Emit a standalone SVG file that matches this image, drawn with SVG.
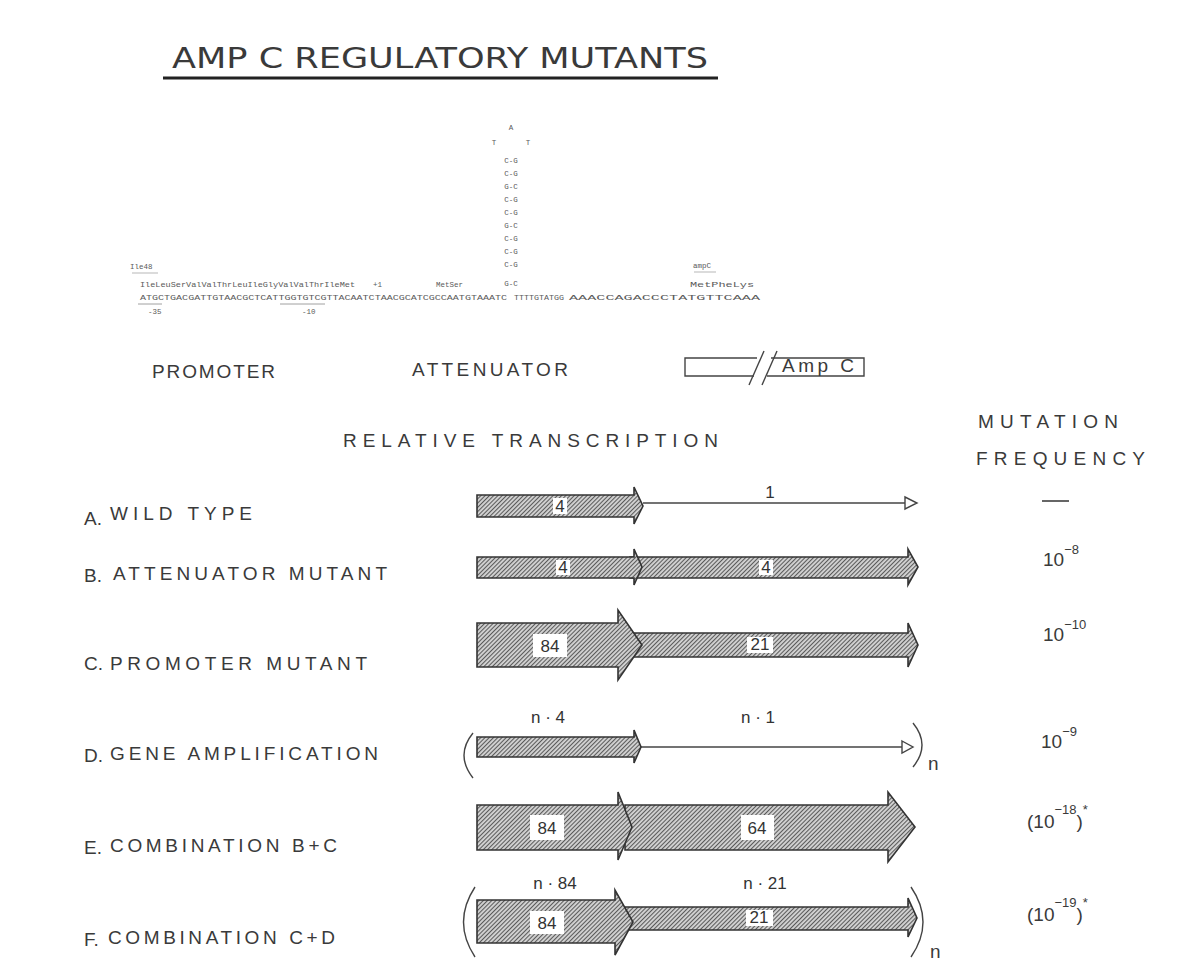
<svg xmlns="http://www.w3.org/2000/svg" width="1186" height="968" viewBox="0 0 1186 968">
<defs>
<pattern id="hatch" width="3" height="3" patternUnits="userSpaceOnUse" patternTransform="rotate(45)">
<rect width="3" height="3" fill="#d2d2d2"/>
<line x1="0.5" y1="0" x2="0.5" y2="3" stroke="#5a5a5a" stroke-width="1.1"/>
</pattern>
<style>
.t{font-family:"Liberation Sans",Arial,sans-serif;fill:#3a3a3a;font-size:19px}
.s{font-family:"Liberation Mono",monospace;fill:#5a5a5a;font-size:7.5px}
.ar{fill:url(#hatch);stroke:#333;stroke-width:1.6;stroke-linejoin:miter}
.ln{fill:none;stroke:#444;stroke-width:1.4}
.box{fill:#fff;stroke:none}
.n{font-family:"Liberation Sans",Arial,sans-serif;fill:#333;font-size:17px;text-anchor:middle}
.sup{font-size:13px}
</style>
</defs>
<rect width="1186" height="968" fill="#fff"/>

<g id="title">
<text x="172" y="68" font-family="'DejaVu Sans',sans-serif" font-size="29" fill="#3a3a3a" textLength="536" lengthAdjust="spacingAndGlyphs">AMP C REGULATORY MUTANTS</text>
<line x1="163" y1="78" x2="718" y2="78" stroke="#222" stroke-width="3"/>
</g>

<g id="sequence">
<text class="s" x="511" y="130" text-anchor="middle">A</text>
<text class="s" x="494" y="145" text-anchor="middle">T</text>
<text class="s" x="528" y="145" text-anchor="middle">T</text>
<g text-anchor="middle">
<text class="s" x="511" y="163">C-G</text>
<text class="s" x="511" y="176">C-G</text>
<text class="s" x="511" y="189">G-C</text>
<text class="s" x="511" y="202">C-G</text>
<text class="s" x="511" y="215">C-G</text>
<text class="s" x="511" y="228">G-C</text>
<text class="s" x="511" y="241">C-G</text>
<text class="s" x="511" y="254">C-G</text>
<text class="s" x="511" y="267">C-G</text>
<text class="s" x="511" y="286">G-C</text>
</g>
<text class="s" x="130" y="269">Ile48</text>
<line x1="132" y1="273" x2="158" y2="273" stroke="#999" stroke-width="0.7"/>
<text class="s" x="140" y="287" textLength="215" lengthAdjust="spacingAndGlyphs">IleLeuSerValValThrLeuIleGlyValValThrIleMet</text>
<text class="s" x="373" y="287">+1</text>
<text class="s" x="436" y="287">MetSer</text>
<text class="s" x="693" y="268">ampC</text>
<line x1="694" y1="272" x2="716" y2="272" stroke="#999" stroke-width="0.7"/>
<text class="s" x="690" y="287" textLength="64" lengthAdjust="spacingAndGlyphs">MetPheLys</text>
<text class="s" x="140" y="300" textLength="367" lengthAdjust="spacingAndGlyphs">ATGCTGACGATTGTAACGCTCATTGGTGTCGTTACAATCTAACGCATCGCCAATGTAAATC</text>
<text class="s" x="514" y="300" textLength="50" lengthAdjust="spacingAndGlyphs">TTTTGTATGG</text>
<text class="s" x="569" y="300" textLength="191" lengthAdjust="spacingAndGlyphs">AAACCAGACCCTATGTTCAAA</text>
<line x1="138" y1="304" x2="162" y2="304" stroke="#888" stroke-width="0.8"/>
<line x1="280" y1="304" x2="325" y2="304" stroke="#888" stroke-width="0.8"/>
<text class="s" x="148" y="314">-35</text>
<text class="s" x="302" y="314">-10</text>
</g>

<g id="region-labels">
<text class="t" x="152" y="378" font-size="18" textLength="123" lengthAdjust="spacing">PROMOTER</text>
<text class="t" x="412" y="376" font-size="18" textLength="156" lengthAdjust="spacing">ATTENUATOR</text>
</g>

<g id="ampc-box">
<path class="ln" d="M757,358 L685,358 L685,376 L754,376"/>
<path class="ln" d="M771,358 L864,358 L864,376 L767,376"/>
<line class="ln" x1="749" y1="385" x2="764" y2="351"/>
<line class="ln" x1="762" y1="385" x2="777" y2="351"/>
<text class="t" x="782" y="372" font-size="18" textLength="72" lengthAdjust="spacing">Amp C</text>
</g>

<g id="headers">
<text class="t" x="343" y="447" textLength="375" lengthAdjust="spacing">RELATIVE TRANSCRIPTION</text>
<text class="t" x="978" y="428" textLength="140" lengthAdjust="spacing">MUTATION</text>
<text class="t" x="976" y="465" textLength="169" lengthAdjust="spacing">FREQUENCY</text>
</g>

<g id="row-labels">
<text class="t" x="84" y="525" font-size="16">A.</text>
<text class="t" x="110" y="520" textLength="142" lengthAdjust="spacing">WILD TYPE</text>
<text class="t" x="84" y="582" font-size="16">B.</text>
<text class="t" x="113" y="580" textLength="274" lengthAdjust="spacing">ATTENUATOR MUTANT</text>
<text class="t" x="84" y="670" font-size="16">C.</text>
<text class="t" x="110" y="670" textLength="257" lengthAdjust="spacing">PROMOTER MUTANT</text>
<text class="t" x="84" y="762" font-size="16">D.</text>
<text class="t" x="110" y="760" textLength="268" lengthAdjust="spacing">GENE AMPLIFICATION</text>
<text class="t" x="84" y="854" font-size="16">E.</text>
<text class="t" x="110" y="852" textLength="227" lengthAdjust="spacing">COMBINATION B+C</text>
<text class="t" x="84" y="946" font-size="16">F.</text>
<text class="t" x="108" y="944" textLength="227" lengthAdjust="spacing">COMBINATION C+D</text>
</g>

<g id="connectors">
<line class="ln" x1="643" y1="503" x2="906" y2="503"/>
<polygon points="905,497 917,503 905,509" fill="#fff" stroke="#444" stroke-width="1.4"/>
<line class="ln" x1="641" y1="747" x2="904" y2="747"/>
<polygon points="902,741 913,747 902,753" fill="#fff" stroke="#444" stroke-width="1.4"/>
</g>

<g id="row-A">
<polygon class="ar" points="477,495 634,495 634,487 643,506 634,524 634,517 477,517"/>
<rect class="box" x="553" y="498" width="14" height="16"/>
<text class="n" x="560" y="512" font-size="14">4</text>
<text class="n" x="770" y="498" font-size="14">1</text>
</g>

<g id="row-B">
<polygon class="ar" points="630,557 908,557 908,549 918,567 908,585 908,578 630,578"/>
<polygon class="ar" points="477,557 634,557 634,549 642,567 634,585 634,578 477,578"/>
<rect class="box" x="556" y="560" width="14" height="15"/>
<text class="n" x="563" y="573" font-size="13">4</text>
<rect class="box" x="759" y="560" width="14" height="15"/>
<text class="n" x="766" y="573" font-size="13">4</text>
</g>

<g id="row-C">
<polygon class="ar" points="630,633 908,633 908,623 918,645 908,667 908,657 630,657"/>
<polygon class="ar" points="477,623 618,623 618,610 642,645 618,680 618,667 477,667"/>
<rect class="box" x="533" y="634" width="34" height="23"/>
<text class="n" x="550" y="652" font-size="17">84</text>
<rect class="box" x="747" y="637" width="26" height="16"/>
<text class="n" x="760" y="650" font-size="14">21</text>
</g>

<g id="row-D">
<text class="n" x="548" y="723">n · 4</text>
<text class="n" x="758" y="723">n · 1</text>
<path class="ln" d="M473,733 Q455,755 473,778"/>
<polygon class="ar" points="477,737 634,737 634,730 641,747 634,763 634,757 477,757"/>
<path class="ln" d="M913,723 Q931,745 913,767"/>
<text class="t" x="928" y="770" font-size="15">n</text>
</g>

<g id="row-E">
<polygon class="ar" points="625,805 888,805 888,792 915,827 888,862 888,850 625,850"/>
<polygon class="ar" points="477,805 618,805 618,792 632,827 618,860 618,850 477,850"/>
<rect class="box" x="530" y="815" width="34" height="25"/>
<text class="n" x="547" y="834" font-size="17">84</text>
<rect class="box" x="741" y="815" width="33" height="25"/>
<text class="n" x="757" y="834" font-size="17">64</text>
</g>

<g id="row-F">
<text class="n" x="555" y="889">n · 84</text>
<text class="n" x="765" y="889">n · 21</text>
<path class="ln" d="M475,887 Q452,922 475,957"/>
<polygon class="ar" points="625,907 908,907 908,898 917,918 908,937 908,930 625,930"/>
<polygon class="ar" points="477,900 615,900 615,890 633,922 615,955 615,943 477,943"/>
<rect class="box" x="530" y="911" width="34" height="23"/>
<text class="n" x="547" y="929" font-size="17">84</text>
<rect class="box" x="746" y="910" width="27" height="16"/>
<text class="n" x="759" y="923" font-size="14">21</text>
<path class="ln" d="M911,887 Q935,922 911,957"/>
<text class="t" x="930" y="958" font-size="14">n</text>
</g>

<g id="frequencies">
<line x1="1042" y1="501" x2="1069" y2="501" stroke="#333" stroke-width="1.5"/>
<text class="t" x="1043" y="566">10<tspan class="sup" dy="-12">−8</tspan></text>
<text class="t" x="1043" y="641">10<tspan class="sup" dy="-12">−10</tspan></text>
<text class="t" x="1041" y="748">10<tspan class="sup" dy="-12">−9</tspan></text>
<text class="t" x="1027" y="828">(10<tspan class="sup" dy="-14">−18</tspan><tspan dy="14">)</tspan><tspan class="sup" dy="-14">*</tspan></text>
<text class="t" x="1027" y="921">(10<tspan class="sup" dy="-14">−19</tspan><tspan dy="14">)</tspan><tspan class="sup" dy="-14">*</tspan></text>
</g>
</svg>
